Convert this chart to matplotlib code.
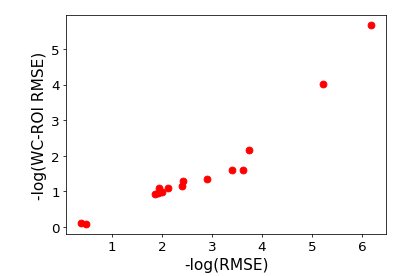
import numpy as np
import matplotlib
matplotlib.use('Agg')
import matplotlib.pyplot as plt

# -log(RMSE) vs -log(WC-ROI RMSE)
neg_log_rmse = [0.38, 0.48, 1.85, 1.92, 1.93, 1.95, 1.99, 2.12, 2.40, 2.41,
                2.89, 3.40, 3.62, 3.74, 5.22, 6.18]
neg_log_wc = [0.10, 0.08, 0.92, 0.95, 1.08, 0.98, 0.98, 1.09, 1.16, 1.30,
              1.34, 1.60, 1.61, 2.17, 4.02, 5.67]

fig = plt.figure(figsize=(6, 4), dpi=69.2)
ax = fig.add_axes([0.16, 0.152, 0.769, 0.79])
ax.scatter(neg_log_rmse, neg_log_wc, c='r', s=50)
ax.set_xlabel('-log(RMSE)', fontsize=16)
ax.set_ylabel('-log(WC-ROI RMSE)', fontsize=16)
ax.tick_params(labelsize=14)
fig.savefig('out.png', dpi=69.2)
